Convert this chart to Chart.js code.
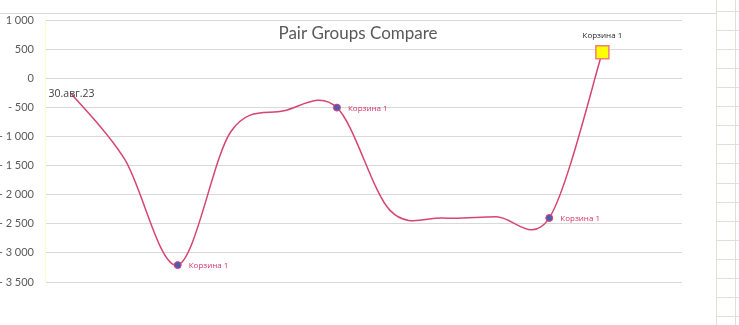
<!DOCTYPE html>
<html>
<head>
<meta charset="utf-8">
<script src="https://cdn.jsdelivr.net/npm/chart.js@4.4.1/dist/chart.umd.min.js"></script>
<style>
  html, body { margin: 0; padding: 0; background: #ffffff; }
  #wrap { position: relative; width: 739px; height: 325px; overflow: hidden; background: #fff; }
  #chartBox { position: absolute; left: 0; top: 0; width: 716px; height: 325px; }
  .deco { position: absolute; }
</style>
</head>
<body>
<div id="wrap">
  <div id="chartBox"><canvas id="c" width="716" height="325"></canvas></div>
</div>
<script>
// ---- data ----
const categories = ['1', '2', '3', '4', '5', '6', '7', '8', '9', '10', '11', '12'];
const values = [-270, -1390, -3210, -920, -560, -505, -2270, -2400, -2380, -2400, 445, null];
const pointLabels = ['30.авг.23', '', 'Корзина 1', '', '', 'Корзина 1', '', '', '', 'Корзина 1', 'Корзина 1', ''];
const yTicks = [1000, 500, 0, -500, -1000, -1500, -2000, -2500, -3000, -3500];
const titleText = 'Pair Groups Compare';

// ---- page decoration (spreadsheet cells / chart border) ----
const wrap = document.getElementById('wrap');
function addLine(l, t, w, h, color) {
  const d = document.createElement('div');
  d.className = 'deco';
  d.style.left = l + 'px'; d.style.top = t + 'px';
  d.style.width = w + 'px'; d.style.height = h + 'px';
  d.style.background = color;
  wrap.appendChild(d);
}
addLine(0, 13, 716, 1, '#d9d9d9');
addLine(716, 0, 1, 325, '#e1dfda');
addLine(735, 0, 1, 325, '#e1dfda');
for (let k = 0; k < 17; k++) {
  addLine(716, Math.round(11 + k * 19.06), 23, 1, '#e1dfda');
}

// ---- styles per point ----
const markerRadius = values.map((v, i) => (pointLabels[i] === 'Корзина 1' ? (i === 10 ? 9.2 : 3.5) : 0));
const markerStyle = values.map((v, i) => (i === 10 ? 'rect' : 'circle'));
const markerFill = values.map((v, i) => (i === 10 ? '#ffff00' : '#4f5bb3'));
const markerBorder = values.map((v, i) => (i === 10 ? '#f47c7c' : '#d9446f'));
const markerBorderW = values.map((v, i) => (i === 10 ? 1.5 : 1));

function fmtNum(v) {
  const s = String(Math.abs(v)).replace(/\B(?=(\d{3})+(?!\d))/g, ' ');
  return v < 0 ? '- ' + s : s;
}

// Excel-like smoothing (Catmull-Rom) computed from the library's own point positions
const excelSmooth = {
  id: 'excelSmooth',
  beforeDatasetDraw(chart, args) {
    const meta = args.meta;
    const pts = meta.data.filter(p => !p.skip);
    for (let i = 0; i < pts.length; i++) {
      const p = pts[i], prev = pts[i - 1] || p, next = pts[i + 1] || p;
      const dx = (next.x - prev.x) / 6, dy = (next.y - prev.y) / 6;
      p.cp1x = p.x - dx; p.cp1y = p.y - dy;
      p.cp2x = p.x + dx; p.cp2y = p.y + dy;
    }
    if (meta.dataset) { meta.dataset._pointsUpdated = true; meta.dataset._path = undefined; }
  }
};

const labelsPlugin = {
  id: 'labelsPlugin',
  afterDatasetsDraw(chart) {
    const ctx = chart.ctx;
    const meta = chart.getDatasetMeta(0);
    ctx.save();
    meta.data.forEach((pt, i) => {
      const txt = pointLabels[i];
      if (!txt || pt.skip) return;
      if (i === 0) {
        ctx.font = '10.5px "Open Sans", sans-serif';
        ctx.fillStyle = '#404040';
        ctx.textAlign = 'center';
        ctx.textBaseline = 'middle';
        ctx.fillText(txt, pt.x, pt.y);
      } else if (i === 10) {
        ctx.font = '8px "Open Sans", sans-serif';
        ctx.fillStyle = '#262626';
        ctx.textAlign = 'center';
        ctx.textBaseline = 'middle';
        ctx.fillText(txt, pt.x, pt.y - 17);
      } else {
        ctx.font = '8px "Open Sans", sans-serif';
        ctx.fillStyle = '#d6336a';
        ctx.textAlign = 'left';
        ctx.textBaseline = 'middle';
        ctx.fillText(txt, pt.x + 11, pt.y + 1);
      }
    });
    ctx.restore();
  }
};

const titlePlugin = {
  id: 'titlePlugin',
  afterDraw(chart) {
    const ctx = chart.ctx;
    ctx.save();
    ctx.font = '17px Lato, "Open Sans", sans-serif';
    ctx.fillStyle = '#595959';
    ctx.textAlign = 'center';
    ctx.textBaseline = 'middle';
    ctx.fillText(titleText, chart.width / 2, 34);
    ctx.restore();
  }
};

new Chart(document.getElementById('c'), {
  type: 'line',
  data: {
    labels: categories,
    datasets: [{
      data: values,
      borderColor: '#d6456f',
      borderWidth: 1.5,
      tension: 0.4,
      fill: false,
      spanGaps: false,
      pointRadius: markerRadius,
      pointStyle: markerStyle,
      pointBackgroundColor: markerFill,
      pointBorderColor: markerBorder,
      pointBorderWidth: markerBorderW,
      pointHoverRadius: markerRadius
    }]
  },
  options: {
    responsive: false,
    animation: false,
    devicePixelRatio: 1,
    layout: { padding: { left: 0, right: 34, top: 20, bottom: 43 } },
    plugins: { legend: { display: false }, title: { display: false }, tooltip: { enabled: false } },
    scales: {
      x: { type: 'category', offset: true, display: false },
      y: {
        min: yTicks[yTicks.length - 1],
        max: yTicks[0],
        afterFit(scale) { scale.width = 45; },
        afterBuildTicks(scale) { scale.ticks = yTicks.map(v => ({ value: v })); },
        ticks: {
          padding: 11,
          color: '#595959',
          font: { family: 'Lato, "Open Sans", sans-serif', size: 11 },
          callback: v => fmtNum(v)
        },
        grid: { color: '#d9d9d9', lineWidth: 1, drawTicks: false },
        border: { display: true, color: '#fffcc8', width: 1 }
      }
    }
  },
  plugins: [excelSmooth, labelsPlugin, titlePlugin]
});
</script>
</body>
</html>
